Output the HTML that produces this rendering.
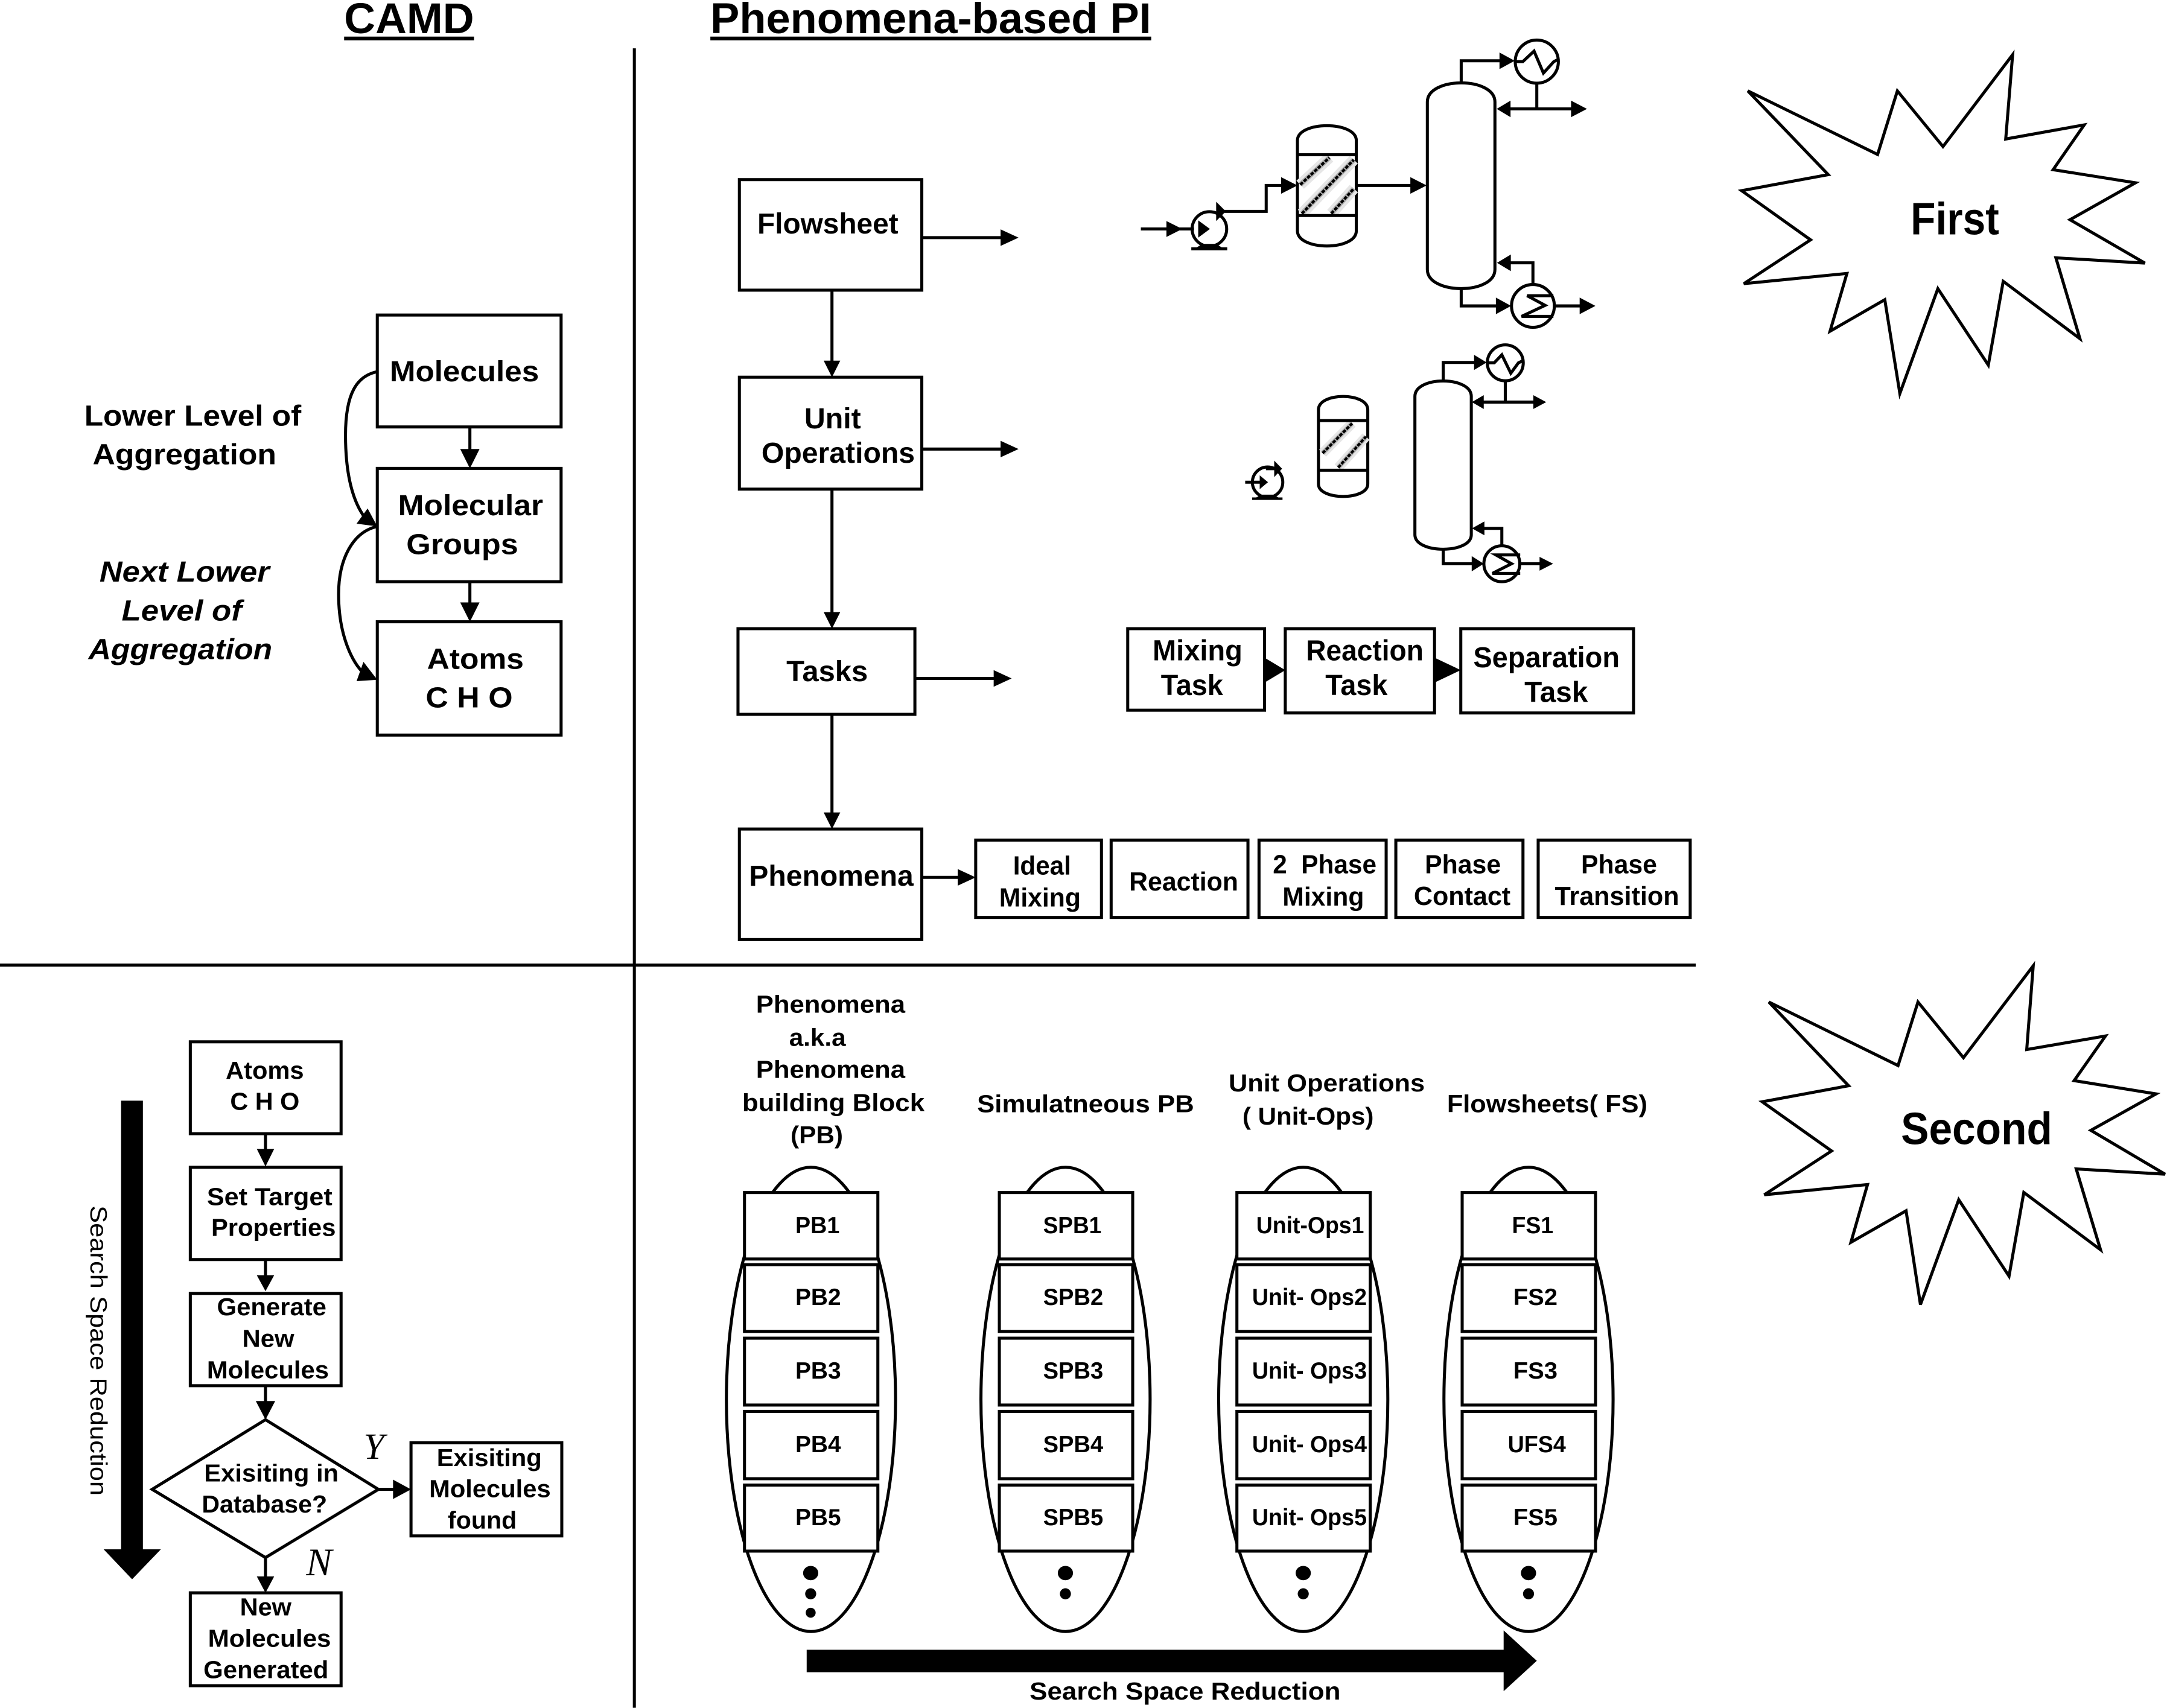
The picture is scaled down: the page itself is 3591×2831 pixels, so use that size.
<!DOCTYPE html>
<html><head><meta charset="utf-8"><style>
html,body{margin:0;padding:0;background:#fff}
svg{display:block}
text{font-family:"Liberation Sans",sans-serif;font-weight:bold;fill:#000}
.b{fill:#fff;stroke:#000;stroke-width:2.2}
.l{fill:none;stroke:#000;stroke-width:2.2}
.t{font-size:21px}.s{font-size:18px}.p{font-size:17px}
</style></head><body>
<svg xmlns="http://www.w3.org/2000/svg" width="3591" height="2831" viewBox="0 0 1568 1236.15">
<rect width="1568" height="1237" fill="#fff"/>
<!-- titles -->
<text x="249" y="24" font-size="31" textLength="94" lengthAdjust="spacingAndGlyphs">CAMD</text>
<rect x="249" y="26.5" width="94" height="2.7"/>
<text x="514" y="24" font-size="31" textLength="319" lengthAdjust="spacingAndGlyphs">Phenomena-based PI</text>
<rect x="514" y="26.5" width="319" height="2.7"/>
<!-- dividers -->
<path class="l" d="M459,35V1236M0,698.5H1227"/>
<!-- CAMD top -->
<rect class="b" x="273" y="228" width="133" height="81"/>
<rect class="b" x="273" y="339" width="133" height="82"/>
<rect class="b" x="273" y="450" width="133" height="82"/>
<path class="l" d="M340,309V327M340,421V437"/>
<polygon points="333,325 347,325 340,339"/><polygon points="333,436 347,436 340,450"/>
<path class="l" d="M273,269C258,272 250,285 250,315C250,350 258,368 266,377"/>
<polygon points="273,381 258,379 266,368"/>
<path class="l" d="M273,381C255,385 245,405 245,430C245,460 255,480 264,488"/>
<polygon points="273,492 258,493 263,479"/>
<text class="t" x="282" y="276" textLength="108" lengthAdjust="spacingAndGlyphs">Molecules</text>
<text class="t" x="288" y="373" textLength="105" lengthAdjust="spacingAndGlyphs">Molecular</text>
<text class="t" x="294" y="401" textLength="81" lengthAdjust="spacingAndGlyphs">Groups</text>
<text class="t" x="309" y="484" textLength="70" lengthAdjust="spacingAndGlyphs">Atoms</text>
<text class="t" x="308" y="512" textLength="63" lengthAdjust="spacingAndGlyphs">C H O</text>
<text class="t" x="61" y="308" textLength="157" lengthAdjust="spacingAndGlyphs">Lower Level of</text>
<text class="t" x="67" y="336" textLength="133" lengthAdjust="spacingAndGlyphs">Aggregation</text>
<text class="t" font-style="italic" x="72" y="421" textLength="123" lengthAdjust="spacingAndGlyphs">Next Lower</text>
<text class="t" font-style="italic" x="88" y="449" textLength="87" lengthAdjust="spacingAndGlyphs">Level of</text>
<text class="t" font-style="italic" x="64" y="477" textLength="133" lengthAdjust="spacingAndGlyphs">Aggregation</text>
<!-- PI levels -->
<rect class="b" x="535" y="130" width="132" height="80"/>
<rect class="b" x="535" y="273" width="132" height="81"/>
<rect class="b" x="534" y="455" width="128" height="62"/>
<rect class="b" x="535" y="600" width="132" height="80"/>
<path class="l" d="M602,210V262M602,354V444M602,517V589M667,172H725M667,325H725M662,491H720M667,635H694"/>
<polygon points="596,261 608,261 602,273"/><polygon points="596,443 608,443 602,455"/><polygon points="596,588 608,588 602,600"/>
<polygon points="724,166 724,178 737,172"/><polygon points="724,319 724,331 737,325"/><polygon points="719,485 719,497 732,491"/><polygon points="693,629 693,641 706,635"/>
<text class="t" x="548" y="169" textLength="102" lengthAdjust="spacingAndGlyphs">Flowsheet</text>
<text class="t" x="582" y="310" textLength="41" lengthAdjust="spacingAndGlyphs">Unit</text>
<text class="t" x="551" y="335" textLength="111" lengthAdjust="spacingAndGlyphs">Operations</text>
<text class="t" x="569" y="493" textLength="59" lengthAdjust="spacingAndGlyphs">Tasks</text>
<text class="t" x="542" y="641" textLength="119" lengthAdjust="spacingAndGlyphs">Phenomena</text>
<!-- tasks -->
<rect class="b" x="816" y="455" width="99" height="59"/>
<rect class="b" x="930" y="455" width="108" height="61"/>
<rect class="b" x="1057" y="455" width="125" height="61"/>
<polygon points="915,476 915,494 930,485"/><polygon points="1038,476 1038,494 1057,485"/>
<text class="t" x="834" y="478" textLength="65" lengthAdjust="spacingAndGlyphs">Mixing</text>
<text class="t" x="840" y="503" textLength="45" lengthAdjust="spacingAndGlyphs">Task</text>
<text class="t" x="945" y="478" textLength="85" lengthAdjust="spacingAndGlyphs">Reaction</text>
<text class="t" x="959" y="503" textLength="45" lengthAdjust="spacingAndGlyphs">Task</text>
<text class="t" x="1066" y="483" textLength="106" lengthAdjust="spacingAndGlyphs">Separation</text>
<text class="t" x="1103" y="508" textLength="46" lengthAdjust="spacingAndGlyphs">Task</text>
<!-- phenomena -->
<rect class="b" x="706" y="608" width="91" height="56"/>
<rect class="b" x="804" y="608" width="99" height="56"/>
<rect class="b" x="911" y="608" width="92" height="56"/>
<rect class="b" x="1010" y="608" width="92" height="56"/>
<rect class="b" x="1113" y="608" width="110" height="56"/>
<text font-size="19" x="733" y="633" textLength="42" lengthAdjust="spacingAndGlyphs">Ideal</text>
<text font-size="19" x="723" y="656" textLength="59" lengthAdjust="spacingAndGlyphs">Mixing</text>
<text font-size="19" x="817" y="644.5" textLength="79" lengthAdjust="spacingAndGlyphs">Reaction</text>
<text font-size="19" x="921" y="632" textLength="75" lengthAdjust="spacingAndGlyphs">2&#160; Phase</text>
<text font-size="19" x="928" y="655.5" textLength="59" lengthAdjust="spacingAndGlyphs">Mixing</text>
<text font-size="19" x="1031" y="632" textLength="55" lengthAdjust="spacingAndGlyphs">Phase</text>
<text font-size="19" x="1023" y="655" textLength="70" lengthAdjust="spacingAndGlyphs">Contact</text>
<text font-size="19" x="1144" y="632" textLength="55" lengthAdjust="spacingAndGlyphs">Phase</text>
<text font-size="19" x="1125" y="655" textLength="90" lengthAdjust="spacingAndGlyphs">Transition</text>
<!-- PFD 1 -->
<path class="l" d="M825.5,165.7H864"/>
<polygon points="844,160 844,171.5 855.5,165.7"/>
<circle class="l" cx="875.1" cy="165.7" r="12.5"/>
<polygon points="867,159.5 867,172 875.5,165.7"/>
<path d="M862,181.2H888V179H884L880,176.5H870L866,179H862Z"/>
<path class="l" d="M886,153H916.2V134.2H928"/>
<polygon points="880,146 880,160 887,153"/>
<polygon points="927,128.2 927,140.2 938.8,134.2"/>
<path class="l" d="M938.8,101.7C938.8,87.4 981.4,87.4 981.4,101.7V167C981.4,181.7 938.8,181.7 938.8,167Z"/>
<g fill="none" stroke="#e6e6e6" stroke-width="8"><path d="M940.8,133.7L962,114M942,154.6L979.6,115.6M963.3,154.6L979.6,136.5"/></g>
<g fill="none" stroke="#b0b0b0" stroke-width="3.6"><path d="M940.8,133.7L962,114M942,154.6L979.6,115.6M963.3,154.6L979.6,136.5"/></g>
<g fill="none" stroke="#000" stroke-width="2" stroke-dasharray="2.6 0.9"><path d="M940.8,133.7L962,114M942,154.6L979.6,115.6M963.3,154.6L979.6,136.5"/></g>
<path class="l" d="M938.8,112H981.4M938.8,156H981.4"/>
<path class="l" d="M982,134.2H1021"/>
<polygon points="1020.5,128.2 1020.5,140.2 1032.3,134.2"/>
<path class="l" d="M1032.8,73.8C1032.8,55.4 1081.7,55.4 1081.7,73.8V195C1081.7,213.5 1032.8,213.5 1032.8,195Z"/>
<path class="l" d="M1057.3,60V44H1086"/>
<polygon points="1085,38 1085,50 1096,44"/>
<circle class="l" cx="1112" cy="44.6" r="15.6"/>
<path class="l" d="M1096,44.6H1101.9L1110,37L1116.8,52.9L1124.3,44.6L1127.5,43"/>
<path class="l" d="M1112,60.5V78.8M1090,78.8H1140"/>
<polygon points="1093,72.8 1093,84.8 1083,78.8"/><polygon points="1136.8,72.8 1136.8,84.8 1148.3,78.8"/>
<path class="l" d="M1057.3,209V221.4H1083"/>
<polygon points="1082.4,215.4 1082.4,227.4 1093.4,221.4"/>
<circle class="l" cx="1109.2" cy="221.4" r="15.5"/>
<path class="l" d="M1124,214H1105L1118,221L1101,229H1124"/>
<path class="l" d="M1109.2,205.9V190.2H1093"/>
<polygon points="1093.2,184.2 1093.2,196.2 1083.2,190.2"/>
<path class="l" d="M1125,221.4H1144"/>
<polygon points="1143,215.4 1143,227.4 1154.4,221.4"/>
<!-- PFD 2 -->
<circle class="l" cx="917.2" cy="349" r="11"/>
<path class="l" d="M901,349H913"/>
<polygon points="911.5,344 911.5,354 917.5,349"/>
<path d="M906,361.8H928V360H925L921,358H913L909,360H906Z"/>
<path class="l" d="M916,339.2H923"/>
<polygon points="922,333.4 922,345.3 927.7,339.2"/>
<path class="l" d="M954,296.6C954,283.7 989.7,283.7 989.7,296.6V350.3C989.7,362.3 954,362.3 954,350.3Z"/>
<g fill="none" stroke="#e6e6e6" stroke-width="7"><path d="M957,328L978.4,306.4M968.3,338.4L988.4,316"/></g>
<g fill="none" stroke="#b0b0b0" stroke-width="3.4"><path d="M957,328L978.4,306.4M968.3,338.4L988.4,316"/></g>
<g fill="none" stroke="#000" stroke-width="1.9" stroke-dasharray="2.6 0.9"><path d="M957,328L978.4,306.4M968.3,338.4L988.4,316"/></g>
<path class="l" d="M954,304.4H989.7M954,340.3H989.7"/>
<path class="l" d="M1023.8,286.9C1023.8,272 1064.6,272 1064.6,286.9V387C1064.6,401 1023.8,401 1023.8,387Z"/>
<path class="l" d="M1044.3,275.7V262.3H1067"/>
<polygon points="1066.6,256.8 1066.6,267.8 1075.7,262.3"/>
<circle class="l" cx="1089.2" cy="262.6" r="13"/>
<path class="l" d="M1076.2,262.6H1081.2L1086.7,256.8L1093.2,270.1L1098.7,262.6L1101.7,261.2"/>
<path class="l" d="M1089.2,275.6V291M1072,291H1111"/>
<polygon points="1073.6,286 1073.6,296 1065,291"/><polygon points="1109.5,286 1109.5,296 1118.8,291"/>
<path class="l" d="M1044.3,397.4V408H1066"/>
<polygon points="1064.9,402.5 1064.9,413.5 1073.6,408"/>
<circle class="l" cx="1086.7" cy="408" r="13"/>
<path class="l" d="M1100,401.6H1082.4L1093.7,408L1079.9,415H1100"/>
<path class="l" d="M1086.7,395V382.4H1073"/>
<polygon points="1074.1,377.4 1074.1,387.4 1065.1,382.4"/>
<path class="l" d="M1100,408H1115"/>
<polygon points="1114,403 1114,413 1123.8,408"/>
<!-- starbursts -->
<polygon class="l" points="1264.7,65.8 1358.6,111.8 1372.9,65.8 1405.9,106.1 1456.3,39.6 1451.3,100.6 1508.1,90.4 1485.6,122.8 1545.2,132.3 1497.8,159 1552,190.4 1487.6,186.6 1505,245.1 1449.5,203.6 1438.7,264.2 1402.2,208.9 1374.7,284.8 1363.8,216.9 1324.2,239.7 1336.4,197.9 1261.8,205.3 1310.1,173.6 1260.2,138 1322.9,126.4"/>
<text font-size="33" x="1382.5" y="169.7" textLength="64" lengthAdjust="spacingAndGlyphs">First</text>
<polygon class="l" points="1279.9,725.2 1373.4,771.2 1387.8,725.2 1420.7,765.5 1471.2,699 1466.5,759.6 1523.5,749.8 1500.8,782.1 1560.1,791.7 1512.9,818.1 1566.6,849.8 1502.3,846 1519.9,904.5 1464.4,863 1453.7,923.6 1417.3,868.3 1389.6,944.2 1379.2,876.3 1339.3,899.1 1351.3,857.3 1276.6,864.7 1325.3,833 1275.1,797.4 1337.6,785.8"/>
<text font-size="33" x="1375.5" y="828.2" textLength="109.5" lengthAdjust="spacingAndGlyphs">Second</text>
<!-- CAMD flowchart -->
<rect class="b" x="137.7" y="754" width="109.1" height="66.5"/>
<rect class="b" x="137.7" y="844.8" width="109.1" height="66.8"/>
<rect class="b" x="137.7" y="936.1" width="109.1" height="66.8"/>
<polygon class="b" points="192.1,1027.5 273.8,1077.9 192.1,1127.3 110.1,1077.9"/>
<rect class="b" x="297.4" y="1044.2" width="109.1" height="67.4"/>
<rect class="b" x="137.7" y="1152.8" width="109.1" height="67.2"/>
<path class="l" d="M192.1,820.5V833M192.1,911.6V924M192.1,1002.9V1015M192.1,1127.3V1142M273.8,1077.9H286"/>
<polygon points="185.8,831.5 198.4,831.5 192.1,844.2"/>
<polygon points="185.8,922.9 198.4,922.9 192.1,934.5"/>
<polygon points="185.1,1014 199.1,1014 192.1,1027.5"/>
<polygon points="185.8,1140.9 198.4,1140.9 192.1,1152.8"/>
<polygon points="284.4,1070.9 284.4,1084.9 297.4,1077.9"/>
<polygon points="87.6,796.6 103.4,796.6 103.4,1121.3 116.4,1121.3 95.6,1143 75,1121.3 87.6,1121.3"/>
<text font-size="17" style="font-weight:normal" transform="translate(65.5,872.5) rotate(90)" textLength="210" lengthAdjust="spacingAndGlyphs">Search Space Reduction</text>
<text class="s" x="163.3" y="780.8" textLength="56.6" lengthAdjust="spacingAndGlyphs">Atoms</text>
<text class="s" x="166.5" y="803.2" textLength="50.2" lengthAdjust="spacingAndGlyphs">C H O</text>
<text class="s" x="149.7" y="872.2" textLength="90.8" lengthAdjust="spacingAndGlyphs">Set Target</text>
<text class="s" x="152.8" y="894.5" textLength="90.2" lengthAdjust="spacingAndGlyphs">Properties</text>
<text class="s" x="157" y="951.9" textLength="79.2" lengthAdjust="spacingAndGlyphs">Generate</text>
<text class="s" x="175.3" y="974.9" textLength="37.6" lengthAdjust="spacingAndGlyphs">New</text>
<text class="s" x="149.7" y="997.6" textLength="88.3" lengthAdjust="spacingAndGlyphs">Molecules</text>
<text class="s" x="147.7" y="1072.2" textLength="97.3" lengthAdjust="spacingAndGlyphs">Exisiting in</text>
<text class="s" x="146" y="1094.6" textLength="90.7" lengthAdjust="spacingAndGlyphs">Database?</text>
<text class="s" x="316" y="1061" textLength="76" lengthAdjust="spacingAndGlyphs">Exisiting</text>
<text class="s" x="310.5" y="1083.5" textLength="88" lengthAdjust="spacingAndGlyphs">Molecules</text>
<text class="s" x="324" y="1106.2" textLength="49.9" lengthAdjust="spacingAndGlyphs">found</text>
<text class="s" x="173.6" y="1169.2" textLength="37.3" lengthAdjust="spacingAndGlyphs">New</text>
<text class="s" x="150.5" y="1191.9" textLength="89" lengthAdjust="spacingAndGlyphs">Molecules</text>
<text class="s" x="147.2" y="1214.6" textLength="90.5" lengthAdjust="spacingAndGlyphs">Generated</text>
<text x="263" y="1055.8" font-size="27" style="font-family:'Liberation Serif',serif;font-style:italic;font-weight:normal">Y</text>
<text x="221.5" y="1140.2" font-size="28" style="font-family:'Liberation Serif',serif;font-style:italic;font-weight:normal">N</text>
<!-- column headers -->
<text class="s" x="547" y="733" textLength="108" lengthAdjust="spacingAndGlyphs">Phenomena</text>
<text class="s" x="571" y="757" textLength="41" lengthAdjust="spacingAndGlyphs">a.k.a</text>
<text class="s" x="547" y="780" textLength="108" lengthAdjust="spacingAndGlyphs">Phenomena</text>
<text class="s" x="537" y="804" textLength="132" lengthAdjust="spacingAndGlyphs">building Block</text>
<text class="s" x="572" y="827.5" textLength="38" lengthAdjust="spacingAndGlyphs">(PB)</text>
<text class="s" x="707" y="805" textLength="157" lengthAdjust="spacingAndGlyphs">Simulatneous PB</text>
<text class="s" x="889" y="790" textLength="142" lengthAdjust="spacingAndGlyphs">Unit Operations</text>
<text class="s" x="899" y="814" textLength="95" lengthAdjust="spacingAndGlyphs">( Unit-Ops)</text>
<text class="s" x="1047" y="805" textLength="145" lengthAdjust="spacingAndGlyphs">Flowsheets( FS)</text>
<!-- column 1 -->
<ellipse class="l" cx="586.8" cy="1012.8" rx="61.2" ry="168"/>
<rect class="b" x="538.7" y="863.1" width="96.5" height="48.1"/>
<rect class="b" x="538.7" y="915.3" width="96.5" height="48.3"/>
<rect class="b" x="538.7" y="968.5" width="96.5" height="48.4"/>
<rect class="b" x="538.7" y="1021.5" width="96.5" height="48.7"/>
<rect class="b" x="538.7" y="1074.8" width="96.5" height="47.8"/>
<text class="p" x="575.5" y="892.6" textLength="32" lengthAdjust="spacingAndGlyphs">PB1</text>
<text class="p" x="575.5" y="944.5" textLength="33" lengthAdjust="spacingAndGlyphs">PB2</text>
<text class="p" x="575.5" y="997.8" textLength="33" lengthAdjust="spacingAndGlyphs">PB3</text>
<text class="p" x="575.5" y="1051" textLength="33" lengthAdjust="spacingAndGlyphs">PB4</text>
<text class="p" x="575.5" y="1103.8" textLength="33" lengthAdjust="spacingAndGlyphs">PB5</text>
<ellipse cx="586.6" cy="1138.5" rx="5.5" ry="5.2"/><circle cx="586.6" cy="1153.5" r="4"/><circle cx="586.6" cy="1167.2" r="3.6"/>
<!-- column 2 -->
<ellipse class="l" cx="771" cy="1012.8" rx="61.2" ry="168"/>
<rect class="b" x="723.1" y="863.1" width="96.5" height="48.1"/>
<rect class="b" x="723.1" y="915.3" width="96.5" height="48.3"/>
<rect class="b" x="723.1" y="968.5" width="96.5" height="48.4"/>
<rect class="b" x="723.1" y="1021.5" width="96.5" height="48.7"/>
<rect class="b" x="723.1" y="1074.8" width="96.5" height="47.8"/>
<text class="p" x="754.8" y="892.6" textLength="42.2" lengthAdjust="spacingAndGlyphs">SPB1</text>
<text class="p" x="754.8" y="944.5" textLength="43.5" lengthAdjust="spacingAndGlyphs">SPB2</text>
<text class="p" x="754.8" y="997.8" textLength="43.5" lengthAdjust="spacingAndGlyphs">SPB3</text>
<text class="p" x="754.8" y="1051" textLength="43.5" lengthAdjust="spacingAndGlyphs">SPB4</text>
<text class="p" x="754.8" y="1103.8" textLength="43.5" lengthAdjust="spacingAndGlyphs">SPB5</text>
<ellipse cx="770.9" cy="1138.5" rx="5.5" ry="5.2"/><circle cx="770.9" cy="1153.5" r="4"/>
<!-- column 3 -->
<ellipse class="l" cx="943" cy="1012.8" rx="61.2" ry="168"/>
<rect class="b" x="895" y="863.1" width="96.5" height="48.1"/>
<rect class="b" x="895" y="915.3" width="96.5" height="48.3"/>
<rect class="b" x="895" y="968.5" width="96.5" height="48.4"/>
<rect class="b" x="895" y="1021.5" width="96.5" height="48.7"/>
<rect class="b" x="895" y="1074.8" width="96.5" height="47.8"/>
<text class="p" x="909" y="892.6" textLength="78" lengthAdjust="spacingAndGlyphs">Unit-Ops1</text>
<text class="p" x="906" y="944.5" textLength="83" lengthAdjust="spacingAndGlyphs">Unit- Ops2</text>
<text class="p" x="906" y="997.8" textLength="83" lengthAdjust="spacingAndGlyphs">Unit- Ops3</text>
<text class="p" x="906" y="1051" textLength="83" lengthAdjust="spacingAndGlyphs">Unit- Ops4</text>
<text class="p" x="906" y="1103.8" textLength="83" lengthAdjust="spacingAndGlyphs">Unit- Ops5</text>
<ellipse cx="943" cy="1138.5" rx="5.5" ry="5.2"/><circle cx="943" cy="1153.5" r="4"/>
<!-- column 4 -->
<ellipse class="l" cx="1106" cy="1012.8" rx="61.2" ry="168"/>
<rect class="b" x="1058" y="863.1" width="96.5" height="48.1"/>
<rect class="b" x="1058" y="915.3" width="96.5" height="48.3"/>
<rect class="b" x="1058" y="968.5" width="96.5" height="48.4"/>
<rect class="b" x="1058" y="1021.5" width="96.5" height="48.7"/>
<rect class="b" x="1058" y="1074.8" width="96.5" height="47.8"/>
<text class="p" x="1094" y="892.6" textLength="30" lengthAdjust="spacingAndGlyphs">FS1</text>
<text class="p" x="1095" y="944.5" textLength="32" lengthAdjust="spacingAndGlyphs">FS2</text>
<text class="p" x="1095" y="997.8" textLength="32" lengthAdjust="spacingAndGlyphs">FS3</text>
<text class="p" x="1091" y="1051" textLength="42" lengthAdjust="spacingAndGlyphs">UFS4</text>
<text class="p" x="1095" y="1103.8" textLength="32" lengthAdjust="spacingAndGlyphs">FS5</text>
<ellipse cx="1106" cy="1138.5" rx="5.5" ry="5.2"/><circle cx="1106" cy="1153.5" r="4"/>
<!-- horizontal big arrow -->
<polygon points="583.7,1194 1088,1194 1088,1180 1112,1202 1088,1224 1088,1210.3 583.7,1210.3"/>
<text class="s" x="745" y="1230" textLength="225" lengthAdjust="spacingAndGlyphs">Search Space Reduction</text>
</svg>
</body></html>
